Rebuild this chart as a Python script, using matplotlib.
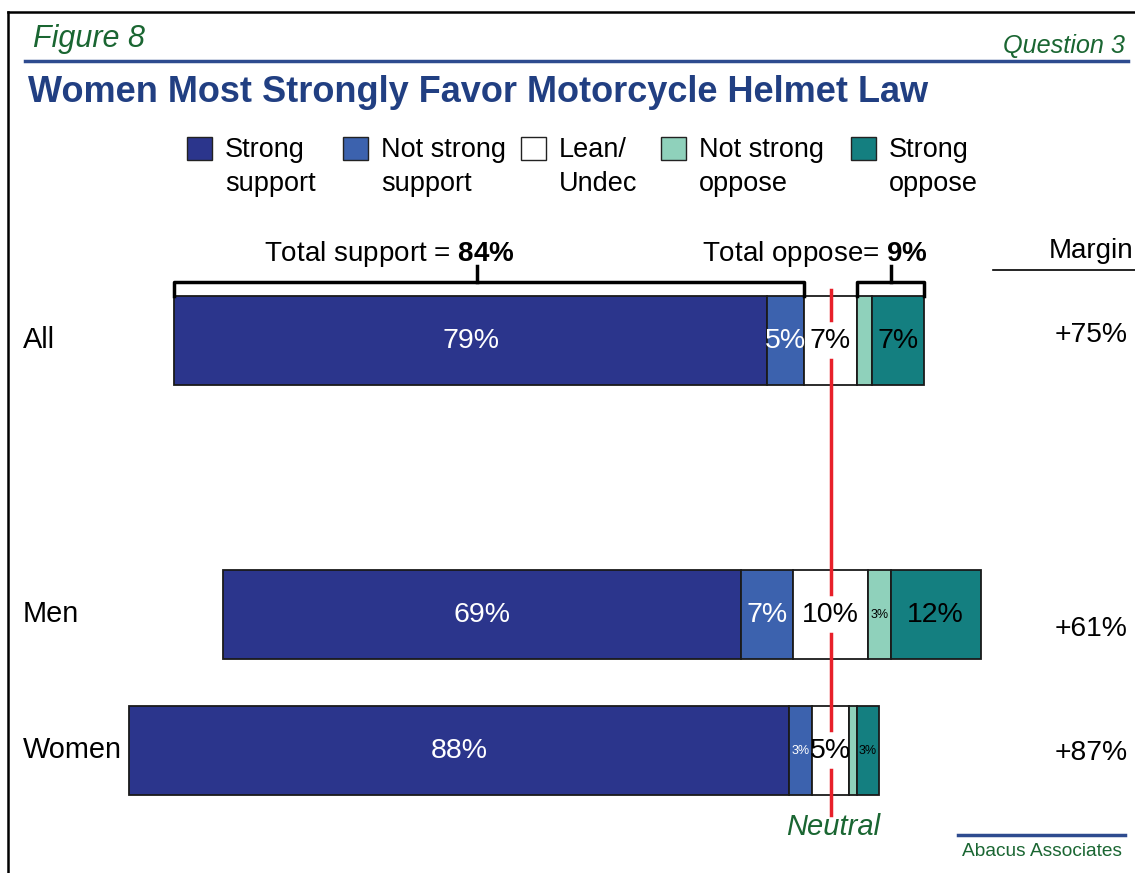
import numpy as np
import matplotlib
matplotlib.use("Agg")
import matplotlib.pyplot as plt
from matplotlib.patches import Rectangle

plt.rcParams['font.family'] = ['Liberation Sans', 'DejaVu Sans']
plt.rcParams['mathtext.fontset'] = 'custom'
plt.rcParams['mathtext.rm'] = 'Liberation Sans'
plt.rcParams['mathtext.bf'] = 'Liberation Sans:bold'

# data
groups = ["All", "Men", "Women"]
strong_support = [79, 69, 88]
not_strong_support = [5, 7, 3]
lean_undec = [7, 10, 5]
not_strong_oppose = [2, 3, 1]
strong_oppose = [7, 12, 3]
margins = ["+75%", "+61%", "+87%"]
total_support = 84
total_oppose = 9

series_names = ["Strong\nsupport", "Not strong\nsupport", "Lean/\nUndec", "Not strong\noppose", "Strong\noppose"]
colors = ["#2B358C", "#3C62AE", "#FFFFFF", "#8FD1BB", "#147F80"]
text_colors = ["white", "white", "black", "black", "black"]

W, H = 1135, 873
fig = plt.figure(figsize=(W / 100, H / 100), dpi=100)
ax = fig.add_axes([0, 0, 1, 1])
# x in percent (0 = neutral), y in pixels from the top
scale = 7.5
x0 = 830.5
ax.set_xlim(-x0 / scale, (W - x0) / scale)
ax.set_ylim(H, 0)
ax.axis("off")

def fx(x):
    return x / W

def fy(y):
    return 1 - y / H

# header
ax.plot([fx(8), fx(8)], [fy(12), 0], transform=fig.transFigure, color="black", lw=1.8)
ax.plot([fx(8), 1], [fy(12), fy(12)], transform=fig.transFigure, color="black", lw=1.8)
fig.text(fx(33), fy(39), "Figure 8", fontsize=22, style="italic", color="#1A6632", va="center")
fig.text(fx(1125), fy(46), "Question 3", fontsize=18.2, style="italic", color="#1A6632", va="center", ha="right")
ax.plot([fx(25), fx(1128)], [fy(61), fy(61)], transform=fig.transFigure, color="#2E4B8F", lw=2.5)
fig.text(fx(28), fy(92), "Women Most Strongly Favor Motorcycle Helmet Law", fontsize=26,
         fontweight="bold", color="#213F82", va="center")

# legend
leg_box_x = [187, 343, 521, 661, 851]
for bx, name, c in zip(leg_box_x, series_names, colors):
    fig.patches.append(Rectangle((fx(bx), fy(160)), 25 / W, 23 / H, transform=fig.transFigure,
                                 facecolor=c, edgecolor="#222222", lw=1.0))
    fig.text(fx(bx + 38), fy(137), name, fontsize=19.5, va="top", ha="left", linespacing=1.4)

# bars
data = np.array([strong_support, not_strong_support, lean_undec, not_strong_oppose, strong_oppose], dtype=float)
y_pos = [340, 614, 750]
bar_h = 89
lefts = -(data[0] + data[1] + data[2] / 2)
for i, y in enumerate(y_pos):
    left = lefts[i]
    for k in range(5):
        w = data[k, i]
        ax.barh(y, w, left=left, height=bar_h, color=colors[k], edgecolor="#1a1a1a", lw=1.3, zorder=2)
        cx = left + w / 2
        if w >= 4:
            ax.text(cx, y + 1, f"{int(w)}%", fontsize=20.5, color=text_colors[k], ha="center", va="center", zorder=5)
        elif w >= 3:
            ax.text(cx, y + 1, f"{int(w)}%", fontsize=9, color=text_colors[k], ha="center", va="center", zorder=5)
        left += w
    ax.text(-x0 / scale + 23 / scale, y, groups[i], fontsize=20.8, ha="left", va="center")

# neutral line, broken around the lean labels
ys = [290]
for y in y_pos:
    ys += [y - 20, y + 20]
ys.append(815)
for a, b in zip(ys[0::2], ys[1::2]):
    ax.plot([0, 0], [a, b], color="#E8202A", lw=2.5, zorder=4)
ax.text(0.3, 827, "Neutral", fontsize=21, style="italic", color="#1A6632", ha="center", va="center")

# brackets for totals on the All bar
top = y_pos[0] - bar_h / 2
sup_l = lefts[0]
sup_r = lefts[0] + strong_support[0] + not_strong_support[0]
ax.plot([sup_l, sup_l, sup_r, sup_r], [top, 282, 282, top], color="black", lw=2.5, zorder=3)
tick_s = sup_l + 0.48 * (sup_r - sup_l)
ax.plot([tick_s, tick_s], [282, 266], color="black", lw=2.5)
ax.text(tick_s - 11.6, 254, "Total support = $\\mathbf{" + str(total_support) + "\\%}$", fontsize=20,
        ha="center", va="center")

opp_l = sup_r + lean_undec[0]
opp_r = opp_l + not_strong_oppose[0] + strong_oppose[0]
ax.plot([opp_l, opp_l, opp_r, opp_r], [top, 282, 282, top], color="black", lw=2.5, zorder=3)
tick_o = (opp_l + opp_r) / 2
ax.plot([tick_o, tick_o], [282, 266], color="black", lw=2.5)
ax.text(opp_r + 0.5, 254, "Total oppose= $\\mathbf{" + str(total_oppose) + "\\%}$", fontsize=20,
        ha="right", va="center")

# margin column
fig.text(fx(1049), fy(251), "Margin", fontsize=20, va="center", ha="left")
ax.plot([fx(993), 1], [fy(270), fy(270)], transform=fig.transFigure, color="black", lw=1.2)
margin_y = [335, 629, 753]
for m, y in zip(margins, margin_y):
    fig.text(fx(1128), fy(y), m, fontsize=20.3, va="center", ha="right")

# footer
ax.plot([fx(958), fx(1125)], [fy(835), fy(835)], transform=fig.transFigure, color="#2E4B8F", lw=2.5)
fig.text(fx(1122), fy(852), "Abacus Associates", fontsize=13.8, color="#1A6632", va="center", ha="right")

fig.savefig("out.png", dpi=100)
